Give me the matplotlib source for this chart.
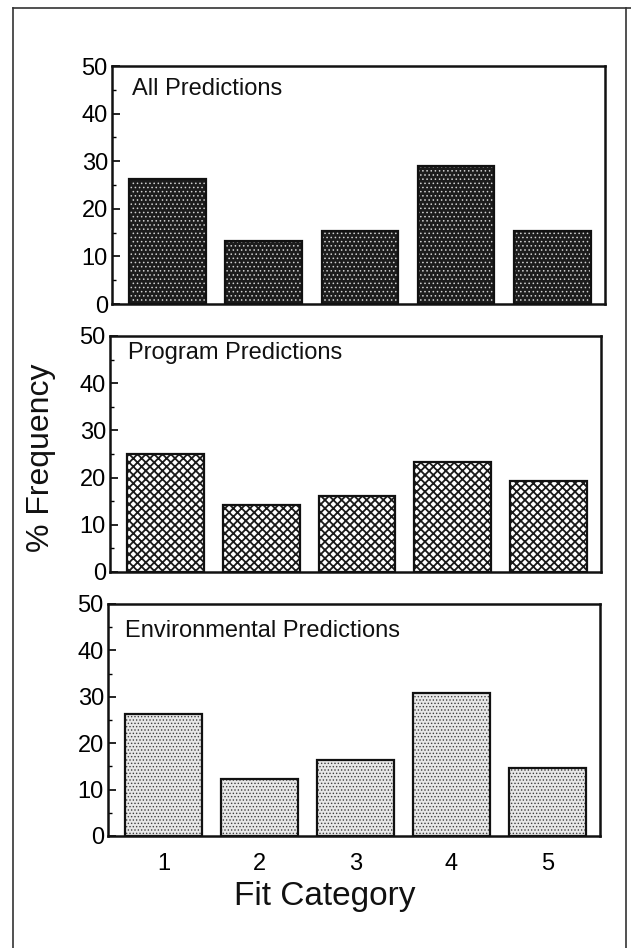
import matplotlib
matplotlib.use("Agg")
from matplotlib import pyplot as plt
from matplotlib.lines import Line2D
from matplotlib.ticker import MultipleLocator

plt.rcParams["font.family"] = ["Liberation Sans", "DejaVu Sans"]

categories = [1, 2, 3, 4, 5]
all_pred = [26.3, 13.2, 15.3, 29.0, 15.3]
program_pred = [24.9, 14.3, 16.1, 23.3, 19.3]
env_pred = [26.4, 12.3, 16.3, 30.8, 14.7]

panel_titles = ["All Predictions", "Program Predictions", "Environmental Predictions"]
panel_values = [all_pred, program_pred, env_pred]

# look of each panel: face, hatch, hatch colour, hatch line width
styles = [
    ("#1c1c1c", "....", "#d0d0d0", 0.6),
    ("white", "xxxx", "#1a1a1a", 1.3),
    ("#e8e8e8", ".....", "#404040", 0.6),
]

# axes boxes in pixels (left, top, right, bottom) of a 631x948 figure
boxes = [
    (112, 66, 605, 304),
    (110, 336, 601, 572),
    (108, 604, 600, 836),
]
title_pos = [(0.040, 0.903), (0.037, 0.928), (0.035, 0.884)]

W, H = 631, 948
fig = plt.figure(figsize=(W / 100, H / 100), dpi=100)

for i, (vals, title) in enumerate(zip(panel_values, panel_titles)):
    l, t, r, b = boxes[i]
    ax = fig.add_axes([l / W, 1 - b / H, (r - l) / W, (b - t) / H])
    face, hatch, hcol, hlw = styles[i]
    with plt.rc_context({"hatch.linewidth": hlw}):
        ax.bar(categories, vals, width=0.8, color=face, edgecolor=hcol,
               hatch=hatch, linewidth=0)
    ax.bar(categories, vals, width=0.8, fill=False, edgecolor="#111111",
           linewidth=1.6)
    ax.set_xlim(0.42, 5.55)
    ax.set_ylim(0, 50)
    ax.yaxis.set_major_locator(MultipleLocator(10))
    ax.yaxis.set_minor_locator(MultipleLocator(5))
    ax.tick_params(axis="y", which="major", direction="in", length=6,
                   width=1.2, labelsize=17, pad=3)
    ax.tick_params(axis="y", which="minor", direction="in", length=3, width=1.0)
    for s in ax.spines.values():
        s.set_linewidth(1.8)
        s.set_color("#111111")
    ax.text(title_pos[i][0], title_pos[i][1], title, transform=ax.transAxes,
            fontsize=17, va="center", ha="left", color="#111111")
    if i < 2:
        ax.set_xticks([])
    else:
        ax.set_xticks(categories)
        ax.tick_params(axis="x", length=0, labelsize=17, pad=12)

fig.text(41 / W, 1 - 458 / H, "% Frequency", rotation=90, fontsize=23,
         ha="center", va="center", color="#111111")
fig.text(325 / W, 1 - 897 / H, "Fit Category", fontsize=24,
         ha="center", va="center", color="#111111")

# outer frame of the scanned page
frame = dict(color="#333333", linewidth=1.2, transform=fig.transFigure)
fig.add_artist(Line2D([13 / W, 13 / W], [0, 1 - 8 / H], **frame))
fig.add_artist(Line2D([13 / W, 1], [1 - 8 / H, 1 - 8 / H], **frame))
fig.add_artist(Line2D([626 / W, 626 / W], [0, 1 - 8 / H], **frame))

fig.savefig("out.png", dpi=100)
